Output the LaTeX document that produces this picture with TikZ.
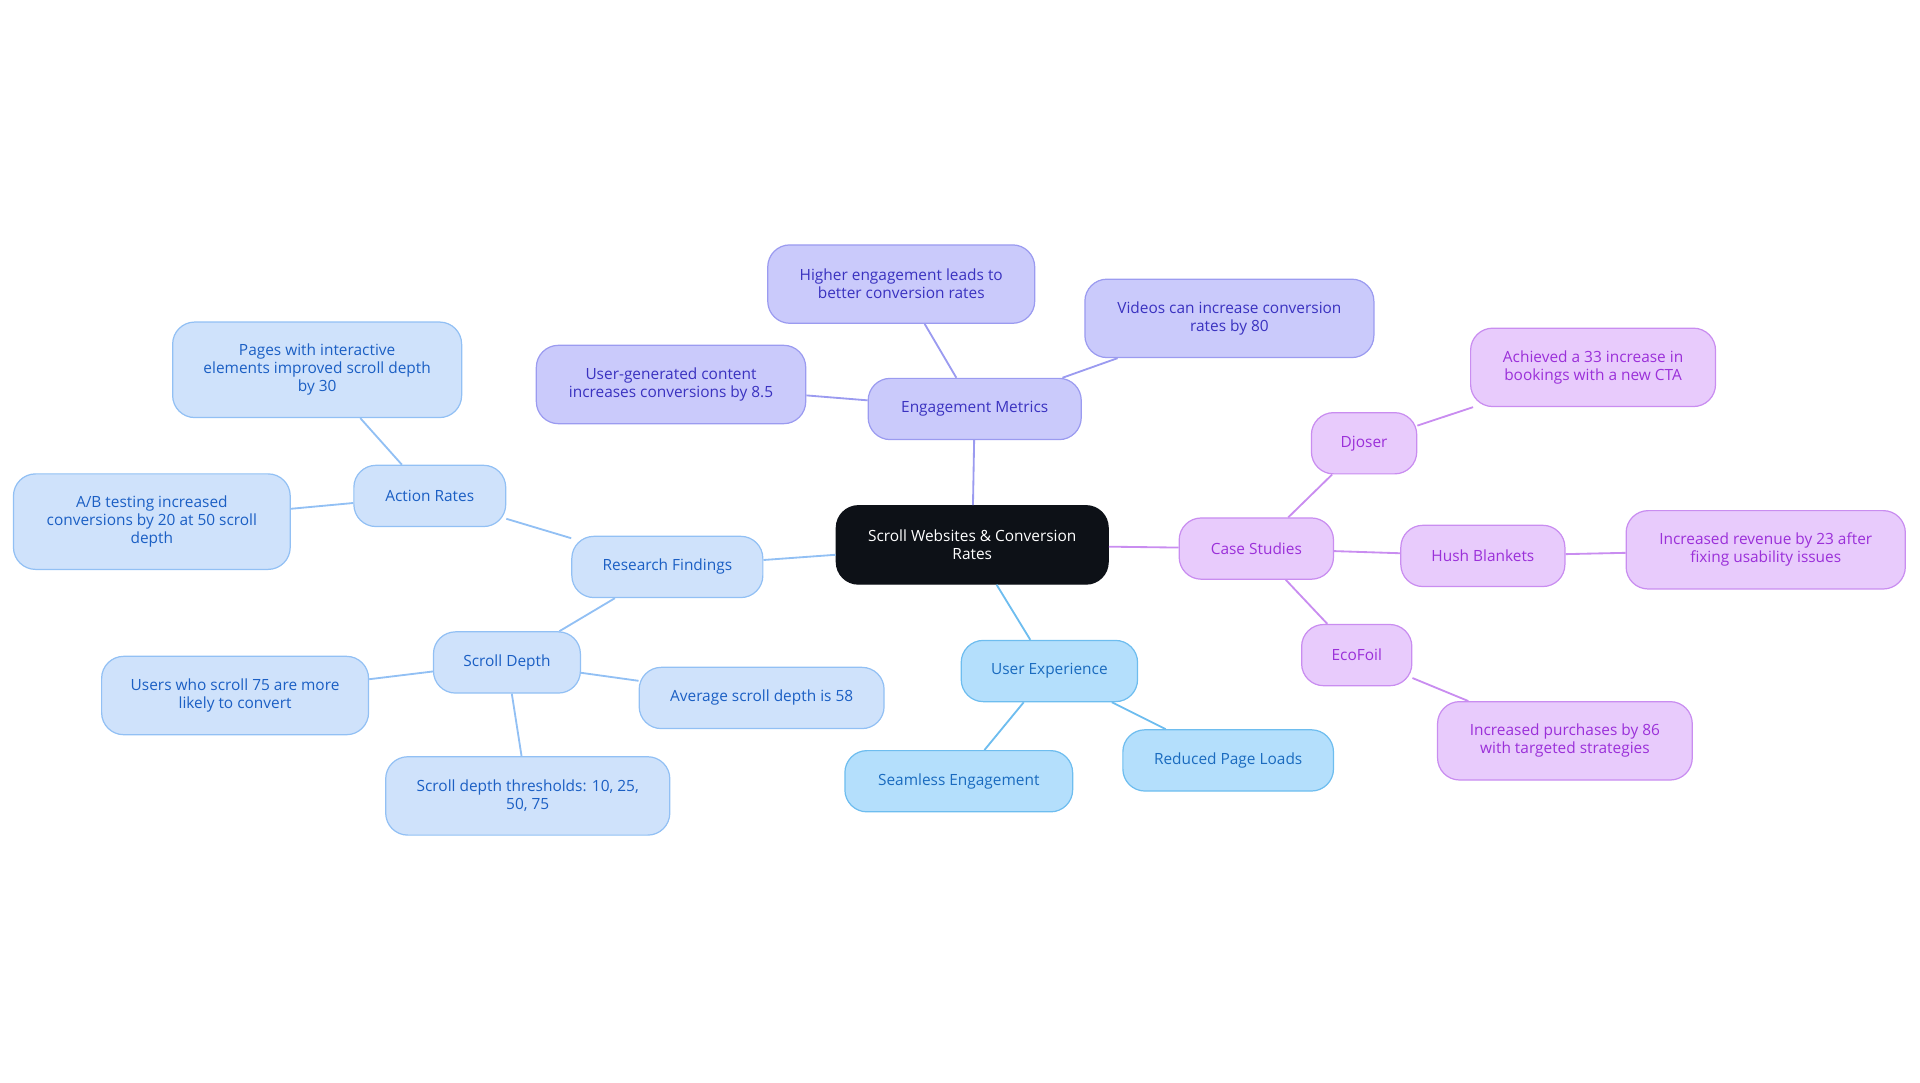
\documentclass[tikz,border=0pt]{standalone}
\usepackage{fontspec}
\setmainfont{Open Sans}
\begin{document}
\begin{tikzpicture}[x=0.5pt,y=-0.5pt,
 base/.style={rounded corners=9pt,draw,line width=0.5pt,align=center,inner sep=0pt,font=\fontsize{6.3}{7.3}\selectfont},
 cen/.style={base,fill=black!90!blue!60!black,fill=cenf,draw=cenf,text=white},
 lb/.style={base,fill=lbf,draw=lbd,text=lbt},
 ux/.style={base,fill=uxf,draw=uxd,text=uxt},
 em/.style={base,fill=emf,draw=emd,text=emt},
 cs/.style={base,fill=csf,draw=csd,text=cst},
 lbl/.style={draw=lbd,line width=0.75pt},
 uxl/.style={draw=uxd,line width=0.75pt},
 eml/.style={draw=emd,line width=0.75pt},
 csl/.style={draw=csd,line width=0.75pt}]
\definecolor{cenf}{HTML}{0D1117}
\definecolor{lbf}{HTML}{CFE2FB}\definecolor{lbd}{HTML}{92C0F4}\definecolor{lbt}{HTML}{1B5FC4}
\definecolor{uxf}{HTML}{B4DFFC}\definecolor{uxd}{HTML}{6EBDEF}\definecolor{uxt}{HTML}{1A6BBF}
\definecolor{emf}{HTML}{CACAFB}\definecolor{emd}{HTML}{9B9BF0}\definecolor{emt}{HTML}{3A32C0}
\definecolor{csf}{HTML}{E8CBFC}\definecolor{csd}{HTML}{C98DF0}\definecolor{cst}{HTML}{9B30D9}
\useasboundingbox (0,0) rectangle (1568,884);
\newcommand{\nd}[7]{\node[#1,minimum width=#5*0.5pt,minimum height=#6*0.5pt] (#2) at (#3,#4) {#7};}
% edges drawn first (nodes on top)
\path (794,445) coordinate (c0);
\nd{cen}{c}{794}{445}{222}{64}{Scroll Websites \& Conversion\\Rates}
\nd{lb}{rf}{545}{463}{156}{50}{Research Findings}
\nd{lb}{ar}{351}{405}{124}{50}{Action Rates}
\nd{lb}{pi}{259}{302}{236}{78}{Pages with interactive\\elements improved scroll depth\\by 30}
\nd{lb}{ab}{124}{426}{226}{78}{A/B testing increased\\conversions by 20 at 50 scroll\\depth}
\nd{lb}{sd}{414}{541}{120}{50}{Scroll Depth}
\nd{lb}{us}{192}{568}{218}{64}{Users who scroll 75 are more\\likely to convert}
\nd{lb}{av}{622}{570}{200}{50}{Average scroll depth is 58}
\nd{lb}{th}{431}{650}{232}{64}{Scroll depth thresholds: 10, 25,\\50, 75}
\nd{em}{em}{796}{334}{174}{50}{Engagement Metrics}
\nd{em}{hi}{736}{232}{218}{64}{Higher engagement leads to\\better conversion rates}
\nd{em}{vi}{1004}{260}{236}{64}{Videos can increase conversion\\rates by 80}
\nd{em}{ug}{548}{314}{220}{64}{User-generated content\\increases conversions by 8.5}
\nd{cs}{cs}{1026}{448}{126}{50}{Case Studies}
\nd{cs}{dj}{1114}{362}{86}{50}{Djoser}
\nd{cs}{ac}{1301}{300}{200}{64}{Achieved a 33 increase in\\bookings with a new CTA}
\nd{cs}{hb}{1211}{454}{134}{50}{Hush Blankets}
\nd{cs}{ir}{1442}{449}{228}{64}{Increased revenue by 23 after\\fixing usability issues}
\nd{cs}{ef}{1108}{535}{90}{50}{EcoFoil}
\nd{cs}{ip}{1278}{605}{208}{64}{Increased purchases by 86\\with targeted strategies}
\nd{ux}{ux}{857}{548}{144}{50}{User Experience}
\nd{ux}{se}{783}{638}{186}{50}{Seamless Engagement}
\nd{ux}{rp}{1003}{621}{172}{50}{Reduced Page Loads}
\begin{scope}[on background layer/.style={}]
\end{scope}
\pgfsetlayers{main}
\draw[lbl] (c) -- (rf); \draw[lbl] (rf) -- (ar); \draw[lbl] (ar) -- (pi); \draw[lbl] (ar) -- (ab);
\draw[lbl] (rf) -- (sd); \draw[lbl] (sd) -- (us); \draw[lbl] (sd) -- (av); \draw[lbl] (sd) -- (th);
\draw[eml] (c) -- (em); \draw[eml] (em) -- (hi); \draw[eml] (em) -- (vi); \draw[eml] (em) -- (ug);
\draw[csl] (c) -- (cs); \draw[csl] (cs) -- (dj); \draw[csl] (dj) -- (ac); \draw[csl] (cs) -- (hb);
\draw[csl] (hb) -- (ir); \draw[csl] (cs) -- (ef); \draw[csl] (ef) -- (ip);
\draw[uxl] (c) -- (ux); \draw[uxl] (ux) -- (se); \draw[uxl] (ux) -- (rp);
\end{tikzpicture}
\end{document}
